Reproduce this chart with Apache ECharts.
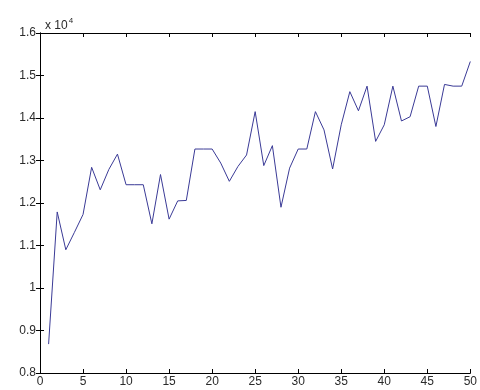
<!DOCTYPE html>
<html>
<head>
<meta charset="utf-8">
<script src="https://cdn.jsdelivr.net/npm/echarts@6/dist/echarts.min.js"></script>
<style>html,body{margin:0;padding:0;background:#fff}#c{width:480px;height:390px}</style>
</head>
<body>
<div id="c"></div>
<script>
var xValues = [1,2,3,4,5,6,7,8,9,10,11,12,13,14,15,16,17,18,19,20,21,22,23,24,25,26,27,28,29,30,31,32,33,34,35,36,37,38,39,40,41,42,43,44,45,46,47,48,49,50];
var yValues = [8680,11790,10900,11310,11730,12840,12310,12790,13150,12430,12430,12430,11510,12670,11620,12050,12060,13270,13270,13270,12940,12510,12860,13130,14150,12880,13350,11900,12820,13270,13270,14150,13720,12800,13840,14620,14170,14750,13450,13840,14750,13930,14030,14750,14750,13800,14790,14750,14750,15330];
var xTicks = [0,5,10,15,20,25,30,35,40,45,50];
var yTicks = [0.8,0.9,1,1.1,1.2,1.3,1.4,1.5,1.6];
var yScale = 10000;

var chart = echarts.init(document.getElementById('c'), null, {renderer:'canvas'});
var labelStyle = {color:'#2a2a2a', fontFamily:'Liberation Sans, Arial, sans-serif', fontSize:12};
var common = {
  axisLine:{show:true, lineStyle:{color:'#000', width:1}},
  axisTick:{show:true, inside:true, length:4, lineStyle:{color:'#000'}},
  splitLine:{show:false}
};
chart.setOption({
  animation:false,
  title:{
    text:'x 10{s|4}', left:40, top:12,
    textStyle:{color:'#2a2a2a', fontFamily:'Liberation Sans, Arial, sans-serif', fontSize:12, fontWeight:'normal',
      rich:{s:{fontSize:8, verticalAlign:'top', padding:[0,0,9,1], color:'#2a2a2a'}}}
  },
  grid:{left:40, right:8, top:33, bottom:17},
  xAxis:[
    Object.assign({type:'value', min:xTicks[0], max:xTicks[xTicks.length-1], interval:5, position:'bottom',
      axisLabel:Object.assign({margin:3}, labelStyle)}, common),
    Object.assign({type:'value', min:xTicks[0], max:xTicks[xTicks.length-1], interval:5, position:'top',
      axisLabel:{show:false}}, common)
  ],
  yAxis:[
    Object.assign({type:'value', min:yTicks[0]*yScale, max:yTicks[yTicks.length-1]*yScale, interval:1000, position:'left',
      axisLabel:Object.assign({margin:4, formatter:function(v){return String(Math.round(v/yScale*10)/10);}}, labelStyle)}, common),
    Object.assign({type:'value', min:yTicks[0]*yScale, max:yTicks[yTicks.length-1]*yScale, interval:1000, position:'right',
      axisLabel:{show:false}}, common)
  ],
  series:[{
    type:'line',
    data:xValues.map(function(x,i){return [x, yValues[i]];}),
    showSymbol:false,
    lineStyle:{color:'#3a3a96', width:1},
    xAxisIndex:0, yAxisIndex:0
  }]
});
</script>
</body>
</html>
